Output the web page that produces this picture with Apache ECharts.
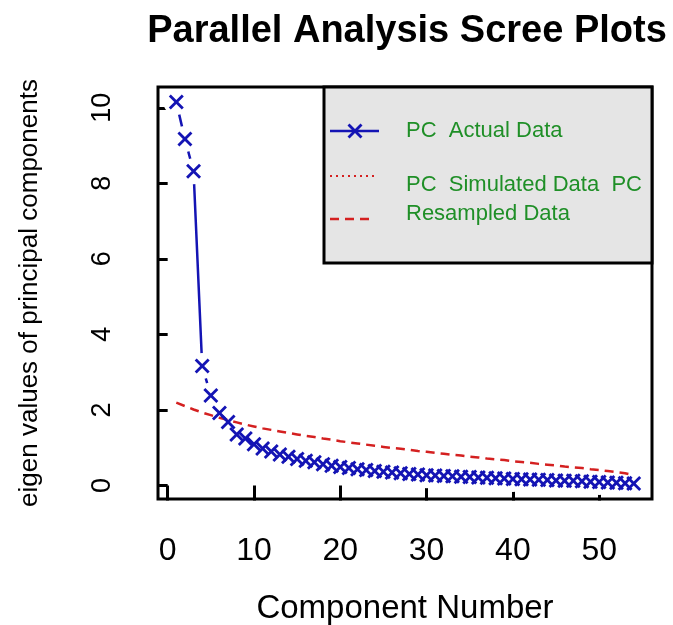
<!DOCTYPE html>
<html>
<head>
<meta charset="utf-8">
<script src="https://cdn.jsdelivr.net/npm/echarts@6/dist/echarts.min.js"></script>
<style>html,body{margin:0;padding:0;background:#fff}#c{width:673px;height:625px}</style>
</head>
<body>
<div id="c"></div>
<script>
// Data
const components = Array.from({length: 54}, (_, i) => i + 1);
const actualData = [10.15, 9.17, 8.32, 3.16, 2.38, 1.92, 1.68, 1.35, 1.24, 1.09,
  0.98, 0.90, 0.82, 0.76, 0.70, 0.65, 0.61, 0.56, 0.52, 0.49,
  0.46, 0.43, 0.41, 0.38, 0.36, 0.34, 0.32, 0.30, 0.29, 0.27,
  0.26, 0.25, 0.24, 0.23, 0.22, 0.21, 0.20, 0.19, 0.18, 0.17,
  0.16, 0.155, 0.15, 0.14, 0.13, 0.125, 0.12, 0.11, 0.10, 0.09,
  0.08, 0.07, 0.06, 0.05];
const resampledData = [2.19, 2.10, 2.01, 1.93, 1.86, 1.79, 1.73, 1.67, 1.61, 1.56,
  1.51, 1.47, 1.43, 1.39, 1.35, 1.31, 1.28, 1.24, 1.21, 1.17,
  1.14, 1.11, 1.08, 1.05, 1.02, 0.99, 0.97, 0.94, 0.91, 0.89,
  0.86, 0.84, 0.81, 0.79, 0.76, 0.74, 0.71, 0.69, 0.67, 0.64,
  0.62, 0.60, 0.57, 0.55, 0.53, 0.50, 0.48, 0.46, 0.43, 0.41,
  0.38, 0.35, 0.32, 0.27];
const xTicks = [0, 10, 20, 30, 40, 50];
const yTicks = [0, 2, 4, 6, 8, 10];
const titleText = 'Parallel Analysis Scree Plots';
const xTitle = 'Component Number';
const yTitle = 'eigen values of principal components';
const legendLabels = ['PC  Actual Data', 'PC  Simulated Data  PC', 'Resampled Data'];

const BLUE = '#1414b4';
const RED = '#d42020';
const GREEN = '#1f8f27';
const FONT = 'Liberation Sans, Arial, sans-serif';
const crossPath = 'path://M0,1.6 L1.6,0 L6,4.4 L10.4,0 L12,1.6 L7.6,6 L12,10.4 L10.4,12 L6,7.6 L1.6,12 L0,10.4 L4.4,6 Z';

const pair = (ys) => components.map((x, i) => [x, ys[i]]);

// legend cross marker polygon (centred at cx, cy)
function crossPoints(cx, cy, h, t) {
  const pts = [[-h, -h + t], [-h + t, -h], [0, -t], [h - t, -h], [h, -h + t], [t, 0],
               [h, h - t], [h - t, h], [0, t], [-h + t, h], [-h, h - t], [-t, 0]];
  return pts.map(p => [cx + p[0], cy + p[1]]);
}

const chart = echarts.init(document.getElementById('c'), null, {renderer: 'canvas'});
chart.setOption({
  animation: false,
  backgroundColor: '#fff',
  title: {
    text: titleText, left: 402, top: 8, textAlign: 'center',
    textStyle: {fontFamily: FONT, fontSize: 38, fontWeight: 'bold', color: '#000'}
  },
  grid: {
    left: 158, right: 21, top: 87, bottom: 126,
    containLabel: false, outerBoundsMode: 'none',
    show: true, borderColor: '#000', borderWidth: 3, backgroundColor: '#fff'
  },
  xAxis: {
    type: 'value', min: -1.12, max: 56.12,
    name: xTitle, nameLocation: 'middle', nameGap: 93,
    nameTextStyle: {fontFamily: FONT, fontSize: 33, color: '#000'},
    axisLine: {show: false},
    splitLine: {show: false},
    axisTick: {show: true, customValues: xTicks, length: 15, lineStyle: {color: '#000', width: 3}},
    axisLabel: {customValues: xTicks, fontFamily: FONT, fontSize: 32, color: '#000', margin: 36}
  },
  yAxis: {
    type: 'value', min: -0.36, max: 10.55,
    name: yTitle, nameLocation: 'middle', nameGap: 115, nameRotate: 90,
    nameTextStyle: {fontFamily: FONT, fontSize: 26, color: '#000'},
    axisLine: {show: false},
    splitLine: {show: false},
    axisTick: {show: true, customValues: yTicks, length: 10, lineStyle: {color: '#000', width: 3}},
    axisLabel: {customValues: yTicks, rotate: 90, fontFamily: FONT, fontSize: 27, color: '#000', margin: 42}
  },
  series: [
    {
      name: 'PC  Actual Data',
      type: 'line', data: pair(actualData), symbol: 'none', z: 2,
      lineStyle: {color: BLUE, width: 2.5}
    },
    {
      type: 'scatter', data: pair(actualData), symbol: 'circle', symbolSize: 26, z: 3,
      itemStyle: {color: '#fff', opacity: 1}, silent: true
    },
    {
      name: 'Resampled Data',
      type: 'line', data: pair(resampledData), symbol: 'none', z: 4,
      lineStyle: {color: RED, width: 2.5, type: [9, 6]}
    },
    {
      type: 'scatter', data: pair(actualData), symbol: crossPath, symbolSize: 15, z: 5,
      itemStyle: {color: BLUE, opacity: 1}
    }
  ],
  graphic: [
    {type: 'rect', z: 100, shape: {x: 324, y: 87, width: 328, height: 176},
     style: {fill: '#e5e5e5', stroke: '#000', lineWidth: 3}},
    {type: 'line', z: 101, shape: {x1: 330, y1: 131, x2: 379, y2: 131}, style: {stroke: BLUE, lineWidth: 2.5}},
    {type: 'polygon', z: 101, shape: {points: crossPoints(355, 131, 7.5, 2)}, style: {fill: BLUE}},
    {type: 'line', z: 101, shape: {x1: 330, y1: 176, x2: 376, y2: 176}, style: {stroke: RED, lineWidth: 2, lineDash: [2, 4]}},
    {type: 'line', z: 101, shape: {x1: 330, y1: 219, x2: 375, y2: 219}, style: {stroke: RED, lineWidth: 2.5, lineDash: [9, 6]}},
    {type: 'text', z: 101, x: 406, y: 131, style: {text: legendLabels[0], fill: GREEN, font: '22px ' + FONT, textVerticalAlign: 'middle'}},
    {type: 'text', z: 101, x: 406, y: 185, style: {text: legendLabels[1], fill: GREEN, font: '22px ' + FONT, textVerticalAlign: 'middle'}},
    {type: 'text', z: 101, x: 406, y: 214, style: {text: legendLabels[2], fill: GREEN, font: '22px ' + FONT, textVerticalAlign: 'middle'}}
  ]
});
</script>
</body>
</html>
